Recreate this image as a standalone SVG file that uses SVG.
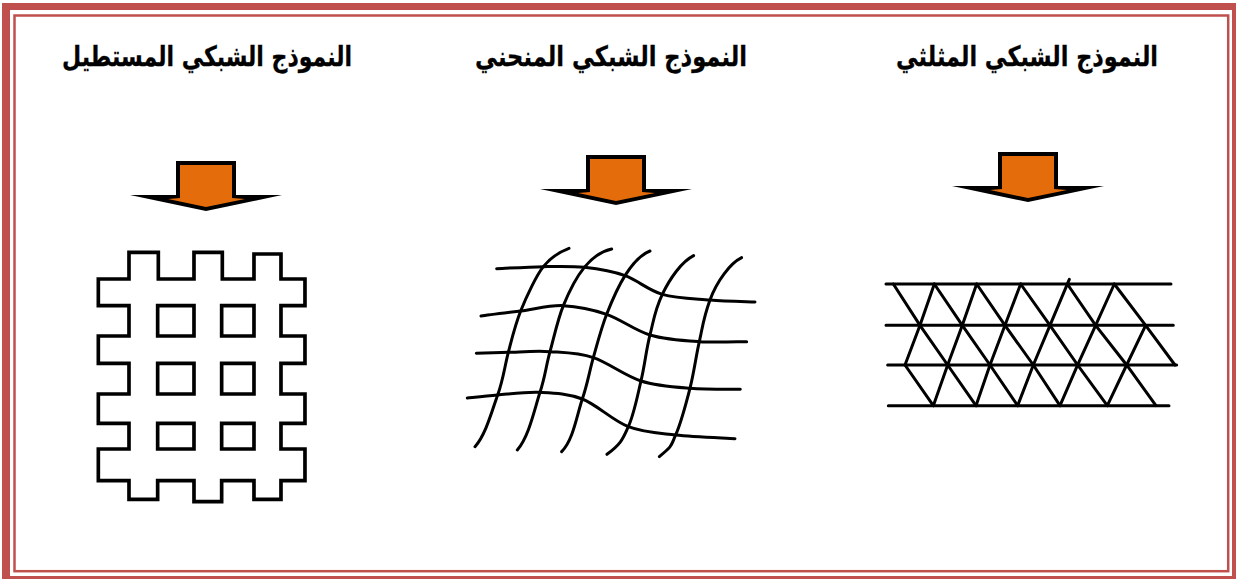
<svg xmlns="http://www.w3.org/2000/svg" width="1236" height="579" viewBox="0 0 1236 579">
<style>
.t{font-family:"DejaVu Sans","Noto Sans",sans-serif;font-weight:700;font-size:28px;fill:#000;stroke:#000;stroke-width:.3px;text-anchor:middle}
.g{fill:none;stroke:#000;stroke-linecap:round;stroke-linejoin:miter}
.o{fill:#000}.i{fill:#e46c0a}
</style>
<defs>
<g id="arrow">
<polygon class="o" points="176,161 236,161 236,195 282,195 206,211 130,195 176,195"/>
<polygon class="i" points="180,165 232,165 232,198 245,199 206,207 168,199 180,198"/>
</g>
</defs>
<rect width="1236" height="579" fill="#fff"/>
<g id="frame">
<path fill="#c0504d" fill-rule="evenodd" d="M2,3H1236V579H2ZM10,10V576H1232V10Z"/>
<rect x="14.500" y="15.500" width="1213.700" height="555.700" fill="none" stroke="#c0504d" stroke-width="2.500"/>
</g>
<g id="rect-mesh">
<text class="t" x="207" y="66" direction="rtl" textLength="290" lengthAdjust="spacingAndGlyphs">النموذج الشبكي المستطيل</text>
<use href="#arrow"/>
<g transform="translate(80 240) scale(.3333)" class="g" stroke-width="11">
<path d="M147,37H235V117H342V37H427V117H522V42H603V117H675V197H603V288H675V370H603V462H675V550H603V627H675V722H603V778H522V722H425V785H342V722H233V778H147V722H55V627H147V550H55V462H147V370H55V288H147V197H55V117H147Z"/>
<path d="M233,197H342V288H233ZM425,197H522V288H425ZM233,370H342V462H233ZM425,370H522V462H425ZM233,550H342V627H233ZM425,550H522V627H425Z"/>
</g>
</g>
<g id="curved-mesh">
<text class="t" x="611" y="66" direction="rtl" textLength="272" lengthAdjust="spacingAndGlyphs">النموذج الشبكي المنحني</text>
<use href="#arrow" x="410" y="-6"/>
<g transform="translate(455 235) scale(.3333)" class="g" stroke-width="9">
<path d="M125,101C148,100 221,96 265,95S347,92.500 388,97S471,108 510,122S580,166 622,178S719,191 765,195S878,200 900,201"/>
<path d="M78,243C98,240 156,233 197,228S282,210 325,212S412,223 455,238S539,286 585,300S685,317 733,320S851,320 875,320"/>
<path d="M64,355C80,354.500 123,353 160,352S243,347 285,350S370,353 415,368S510,423 558,438S655,456 705,460S831,462.500 856,463"/>
<path d="M37,489C52,487.500 92,483 128,480S213,470 255,472S338,475 382,492S473,557 520,575S609,594 662,600S810,609 840,611"/>
<path d="M342,40C310,52 285,70 265,95S214,185 197,228S171,310 160,352S145,433 128,480S92,600 60,635"/>
<path d="M470,42C435,50 410,70 388,97S342,170 325,212S297,307 285,350S271,423 255,472S222,605 187,645"/>
<path d="M585,48C555,60 530,90 510,122S471,197 455,238S427,326 415,368S398,445 382,492S355,615 320,650"/>
<path d="M716,62C680,80 645,130 622,178S596,257 585,300S569,392 558,438S537,538 520,575S500,625 456,658"/>
<path d="M860,68C825,85 785,140 765,195S743,276 733,320S717,413 705,460S677,566 662,600S655,630 613,665"/>
</g>
</g>
<g id="triangle-mesh">
<text class="t" x="1027" y="66" direction="rtl" textLength="262" lengthAdjust="spacingAndGlyphs">النموذج الشبكي المثلثي</text>
<use href="#arrow" x="822" y="-9"/>
<g transform="translate(875 270) scale(.3333)" class="g" stroke-width="9">
<path d="M33,42H888M33,166H895M38,285H905M40,407H882"/>
<path d="M55,42L135,166 218,285 303,407M178,42L262,166 345,285 428,407M305,42L390,166 475,285 555,407M437,42L525,166 608,285 697,407M577,42L662,166 755,285 843,407M718,42L812,166 900,285M90,285L175,407"/>
<path d="M178,42L135,166 90,285M305,42L262,166 218,285 175,407M437,42L390,166 345,285 303,407M583,28L525,166 475,285 428,407M718,42L662,166 608,285 555,407M812,166L755,285 697,407"/>
</g>
</g>
</svg>
